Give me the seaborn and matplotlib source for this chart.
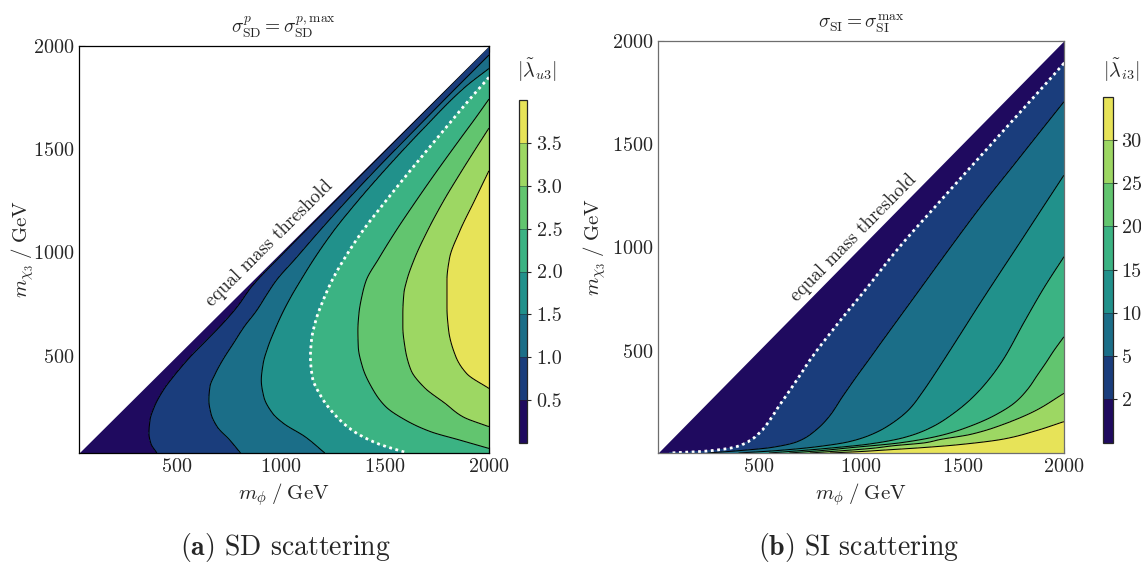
import numpy as np
import matplotlib
matplotlib.use("Agg")
import matplotlib.pyplot as plt
import seaborn as sns

# ------------------------------------------------------------------ data
# Panel (a): SD scattering, |lambda_u3| contour crossings (m_chi, m_phi) in GeV
SD_LEVELS = [0.5, 1.0, 1.5, 2.0, 2.5, 3.0, 3.5]
SD_BOUNDS = [-1.0, 0.5, 1.0, 1.5, 2.0, 2.5, 3.0, 3.5, 100.0]
SD_TICKS = [0.5, 1.0, 1.5, 2.0, 2.5, 3.0, 3.5]

SD_05_MCHI = [30, 77, 125, 189, 254, 334, 414, 495, 575, 656, 736, 833, 1000, 1200, 1400, 1600, 1800, 1995]
SD_05_MPHI = [404, 375, 366, 371, 392, 435, 495, 564, 642, 720, 789, 858, 1015, 1212, 1410, 1608, 1806, 1998]
SD_10_MCHI = [30, 93, 157, 221, 286, 350, 414, 479, 559, 640, 720, 801, 865, 970, 1100, 1250, 1400, 1600, 1800, 1955]
SD_10_MPHI = [806, 754, 694, 664, 654, 659, 685, 720, 771, 823, 884, 935, 978, 1070, 1182, 1316, 1456, 1650, 1846, 2000]
SD_15_MCHI = [30, 109, 173, 221, 302, 382, 463, 543, 624, 704, 785, 865, 970, 1100, 1250, 1400, 1600, 1800, 1890]
SD_15_MPHI = [1211, 1116, 1013, 961, 918, 906, 915, 938, 970, 1006, 1048, 1095, 1160, 1250, 1370, 1500, 1685, 1885, 2000]
SD_20_MCHI = [30, 77, 141, 221, 302, 398, 495, 575, 672, 768, 865, 970, 1100, 1250, 1400, 1600, 1750, 1847]
SD_20_MPHI = [1608, 1461, 1341, 1254, 1194, 1151, 1142, 1147, 1168, 1203, 1246, 1305, 1390, 1505, 1625, 1790, 1915, 2000]
SD_25_MCHI = [52, 93, 133, 189, 254, 334, 447, 543, 624, 704, 801, 865, 970, 1100, 1250, 1380, 1550, 1650, 1742]
SD_25_MPHI = [2000, 1858, 1720, 1599, 1504, 1444, 1392, 1372, 1370, 1375, 1392, 1410, 1470, 1550, 1650, 1740, 1862, 1935, 2000]
SD_30_MCHI = [157, 205, 270, 350, 431, 543, 640, 704, 801, 865, 970, 1100, 1250, 1380, 1500, 1602]
SD_30_MPHI = [2000, 1875, 1789, 1686, 1625, 1596, 1586, 1586, 1591, 1605, 1642, 1702, 1782, 1860, 1935, 2000]
SD_35_MCHI = [342, 414, 495, 624, 736, 865, 970, 1100, 1250, 1396]
SD_35_MPHI = [2000, 1893, 1841, 1806, 1798, 1798, 1810, 1858, 1930, 2000]

# Panel (b): SI scattering, |lambda_i3| contour crossings
SI_LEVELS = [2, 5, 10, 15, 20, 25, 30]
SI_BOUNDS = [-1, 2, 5, 10, 15, 20, 25, 30, 10000]
SI_TICKS = [2, 5, 10, 15, 20, 25, 30]

SI_02_MCHI = [5, 8, 12, 20, 34, 62, 108, 150, 190, 240, 290, 340, 395, 455, 624, 802, 1000, 1200, 1400, 1600, 1800, 1891]
SI_02_MPHI = [60, 120, 210, 300, 385, 452, 510, 545, 572, 605, 640, 675, 712, 752, 883, 1030, 1190, 1370, 1552, 1735, 1918, 2000]
SI_05_MCHI = [5, 16, 32, 60, 115, 180, 278, 374, 455, 544, 770, 1011, 1200, 1400, 1600, 1705]
SI_05_MPHI = [250, 400, 564, 690, 780, 845, 912, 980, 1040, 1105, 1272, 1450, 1593, 1754, 1915, 2000]
SI_10_MCHI = [5, 16, 34, 60, 100, 152, 217, 300, 374, 445, 560, 721, 866, 1011, 1180, 1350]
SI_10_MPHI = [400, 580, 775, 945, 1067, 1160, 1240, 1305, 1356, 1403, 1478, 1582, 1678, 1775, 1887, 2000]
SI_15_MCHI = [5, 16, 28, 48, 80, 128, 193, 273, 362, 455, 640, 802, 955]
SI_15_MPHI = [550, 700, 842, 1040, 1215, 1346, 1452, 1550, 1632, 1700, 1805, 1900, 2000]
SI_20_MCHI = [5, 16, 30, 55, 90, 135, 190, 250, 318, 380, 440, 500, 568]
SI_20_MPHI = [650, 800, 944, 1200, 1395, 1540, 1665, 1760, 1825, 1868, 1910, 1950, 2000]
SI_25_MCHI = [5, 14, 28, 40, 55, 70, 95, 145, 210, 294]
SI_25_MPHI = [750, 880, 1060, 1160, 1320, 1390, 1540, 1705, 1860, 2000]
SI_30_MCHI = [5, 12, 20, 30, 45, 72, 112, 157]
SI_30_MPHI = [850, 1000, 1130, 1290, 1480, 1700, 1860, 2000]

BAND_COLORS = ['#1f0a5f', '#1a3d7c', '#1b6e88', '#21918b', '#3bb383',
               '#62c56f', '#9dd763', '#e7e358']

# ------------------------------------------------------------------ style
sns.set_style("ticks")
plt.rcParams.update({
    "font.family": "serif",
    "font.serif": ["cmr10"],
    "mathtext.fontset": "cm",
    "axes.unicode_minus": False,
    "axes.formatter.use_mathtext": True,
})
palette = sns.color_palette(BAND_COLORS)


def pchip(xk, yk, xq):
    """Monotone piecewise-cubic Hermite curve through the read points."""
    xk = np.asarray(xk, float)
    yk = np.asarray(yk, float)
    h = np.diff(xk)
    delta = np.diff(yk) / h
    d = np.zeros_like(yk)
    d[0], d[-1] = delta[0], delta[-1]
    for k in range(1, len(xk) - 1):
        if delta[k - 1] * delta[k] > 0:
            w1 = 2 * h[k] + h[k - 1]
            w2 = h[k] + 2 * h[k - 1]
            d[k] = (w1 + w2) / (w1 / delta[k - 1] + w2 / delta[k])
    i = int(np.clip(np.searchsorted(xk, xq) - 1, 0, len(xk) - 2))
    t = (xq - xk[i]) / h[i]
    h00 = 2 * t**3 - 3 * t**2 + 1
    h10 = t**3 - 2 * t**2 + t
    h01 = -2 * t**3 + 3 * t**2
    h11 = t**3 - t**2
    return h00 * yk[i] + h10 * h[i] * d[i] + h01 * yk[i + 1] + h11 * h[i] * d[i + 1]


def build_field(mphi, mchi, crossings, levels):
    Z = np.zeros((mchi.size, mphi.size))
    for i, y in enumerate(mchi):
        xs, vs, missing = [y], [0.0], []
        for lev, (cy, cx) in zip(levels, crossings):
            if cy[0] <= y <= cy[-1]:
                xs.append(max(float(pchip(cy, cx, y)), xs[-1] + 1e-6))
                vs.append(lev)
            else:
                missing.append(lev)
        xs, vs = np.array(xs), np.array(vs)
        row = mphi >= y
        xr = mphi[row]
        z = np.interp(xr, xs, vs)
        if len(xs) > 1:
            slope = (vs[-1] - vs[-2]) / (xs[-1] - xs[-2])
            beyond = xr > xs[-1]
            ext = vs[-1] + slope * (xr[beyond] - xs[-1])
            above = [l for l in missing if l > vs[-1]]
            if above:
                ext = np.minimum(ext, vs[-1] + 0.97 * (min(above) - vs[-1]))
            z[beyond] = ext
        Z[i, row] = z
    return Z


sd_cross = [(SD_05_MCHI, SD_05_MPHI), (SD_10_MCHI, SD_10_MPHI), (SD_15_MCHI, SD_15_MPHI),
            (SD_20_MCHI, SD_20_MPHI), (SD_25_MCHI, SD_25_MPHI), (SD_30_MCHI, SD_30_MPHI),
            (SD_35_MCHI, SD_35_MPHI)]
si_cross = [(SI_02_MCHI, SI_02_MPHI), (SI_05_MCHI, SI_05_MPHI), (SI_10_MCHI, SI_10_MPHI),
            (SI_15_MCHI, SI_15_MPHI), (SI_20_MCHI, SI_20_MPHI), (SI_25_MCHI, SI_25_MPHI),
            (SI_30_MCHI, SI_30_MPHI)]

sd_phi = np.linspace(30, 2000, 900)
sd_chi = np.linspace(30, 2000, 700)
si_phi = np.linspace(5, 2000, 900)
si_chi = np.concatenate([np.linspace(5, 120, 240), np.linspace(120, 2000, 600)[1:]])

Z_sd = build_field(sd_phi, sd_chi, sd_cross, SD_LEVELS)
Z_si = build_field(si_phi, si_chi, si_cross, SI_LEVELS)
Z_si = np.minimum(Z_si, SI_BOUNDS[-1] - 1)

W, H = 1141, 569
fig = plt.figure(figsize=(W / 100, H / 100), dpi=100)


def frac(x0, y0, x1, y1):
    return [x0 / W, 1 - y1 / H, (x1 - x0) / W, (y1 - y0) / H]


ax1 = fig.add_axes(frac(79, 45.7, 489, 453))
cax1 = fig.add_axes(frac(519, 100, 527.5, 443))
ax2 = fig.add_axes(frac(658, 40.7, 1064, 453))
cax2 = fig.add_axes(frac(1103, 96.7, 1112.5, 442.7))

panels = [
    (ax1, cax1, sd_phi, sd_chi, Z_sd, SD_LEVELS, SD_BOUNDS, SD_TICKS, 2.0, 30,
     r'$\sigma^{p}_{\mathrm{SD}} = \sigma^{p,\mathrm{max}}_{\mathrm{SD}}$',
     r'$|\tilde{\lambda}_{u3}|$', '%.1f', (945, 1045), 'black', -0.105),
    (ax2, cax2, si_phi, si_chi, Z_si, SI_LEVELS, SI_BOUNDS, SI_TICKS, 2, 5,
     r'$\sigma_{\mathrm{SI}} = \sigma^{\mathrm{max}}_{\mathrm{SI}}$',
     r'$|\tilde{\lambda}_{i3}|$', '%d', (965, 1045), '#6e6e6e', -0.123),
]

for (ax, cax, xs, ys, Z, levels, bounds, ticks, dotted, lo, title, clabel,
     fmt, tpos, spc, ylx) in panels:
    X, Y = np.meshgrid(xs, ys)
    cf = ax.contourf(X, Y, Z, levels=bounds, colors=palette, zorder=1)
    ax.contour(X, Y, Z, levels=[l for l in levels if l != dotted],
               colors='black', linewidths=0.75, zorder=1.5)
    ax.contour(X, Y, Z, levels=[dotted], colors='white', linewidths=2.0,
               linestyles=[(0, (1, 1.3))], zorder=1.6)
    # region above the equal-mass line is kinematically excluded (blank)
    ax.fill_between([lo, 2000], [lo, 2000], [2000, 2000], color='white',
                    lw=0, zorder=2)
    ax.set_xlim(lo, 2000)
    ax.set_ylim(lo, 2000)
    ax.set_xticks([500, 1000, 1500, 2000])
    ax.set_yticks([500, 1000, 1500, 2000])
    ax.set_xticks(np.arange(100, 2001, 100), minor=True)
    ax.set_yticks(np.arange(100, 2001, 100), minor=True)
    ax.tick_params(which='both', direction='in', top=True, right=True,
                   labelsize=14.5, color=spc)
    ax.tick_params(which='major', length=4, width=0.8)
    ax.tick_params(which='minor', length=2, width=0.6)
    for s in ax.spines.values():
        s.set_color(spc)
        s.set_linewidth(0.9)
        s.set_zorder(4)
    ax.set_xlabel(r'$m_{\phi}\;/\;\mathrm{GeV}$', fontsize=15, labelpad=4)
    ax.set_ylabel(r'$m_{\chi_3}\;/\;\mathrm{GeV}$', fontsize=15)
    ax.yaxis.set_label_coords(ylx, 0.5)
    ax.set_title(title, fontsize=14, pad=9)

    bb = ax.get_position()
    ang = np.degrees(np.arctan2(bb.height * H, bb.width * W))
    ax.text(tpos[0], tpos[1], 'equal mass threshold', rotation=ang,
            rotation_mode='anchor', ha='center', va='center', fontsize=13.5,
            zorder=3)

    cb = fig.colorbar(cf, cax=cax, ticks=ticks, spacing='uniform',
                      drawedges=True, format=fmt)
    cb.outline.set_linewidth(0.9)
    cb.dividers.set_color('#222222')
    cb.dividers.set_linewidth(0.5)
    cb.dividers.set_alpha(0.6)
    cax.tick_params(labelsize=14.5, length=3, width=0.8, direction='out')
    cax.minorticks_off()
    cpos = cax.get_position()
    fig.text(cpos.x0 + cpos.width / 2 + 14 / W, 1 - 70 / H, clabel,
             ha='center', va='center', fontsize=14.5)

fig.text(285 / W, 1 - 547 / H, r'$\mathbf{(a)}$ SD scattering',
         ha='center', va='center', fontsize=20)
fig.text(859 / W, 1 - 547 / H, r'$\mathbf{(b)}$ SI scattering',
         ha='center', va='center', fontsize=20)

fig.savefig('out.png', dpi=100)
